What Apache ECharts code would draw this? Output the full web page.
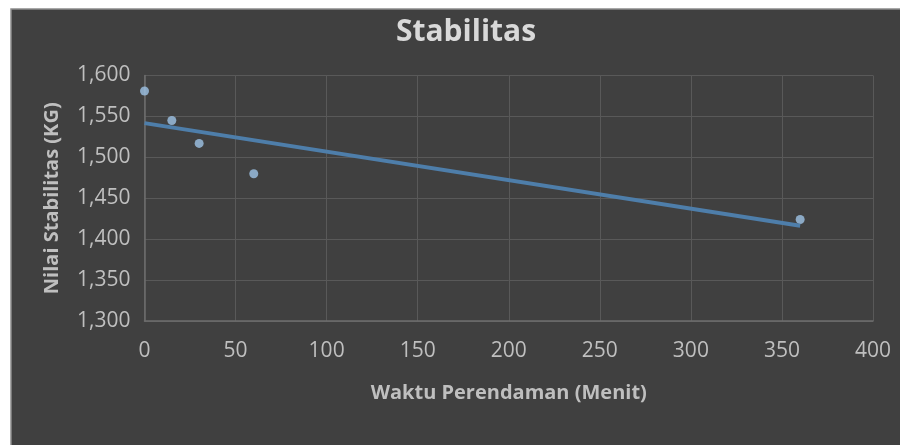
<!DOCTYPE html>
<html>
<head>
<meta charset="utf-8">
<script src="https://cdn.jsdelivr.net/npm/echarts@6/dist/echarts.min.js"></script>
<style>
  html, body { margin: 0; padding: 0; background: #ffffff; }
  #chart { width: 900px; height: 445px; }
</style>
</head>
<body>
<div id="chart"></div>
<script>
// Soaking time (minutes) and measured stability (kg)
const waktu = [0, 15, 30, 60, 360];
const stabilitas = [1581, 1545, 1517, 1480, 1424];
const xTicks = [0, 50, 100, 150, 200, 250, 300, 350, 400];
const yTicks = [1300, 1350, 1400, 1450, 1500, 1550, 1600];

// Least-squares linear trend through the measurements
function linearFit(xs, ys) {
  const n = xs.length;
  const mx = xs.reduce((a, b) => a + b, 0) / n;
  const my = ys.reduce((a, b) => a + b, 0) / n;
  let sxy = 0, sxx = 0;
  for (let i = 0; i < n; i++) {
    sxy += (xs[i] - mx) * (ys[i] - my);
    sxx += (xs[i] - mx) * (xs[i] - mx);
  }
  const slope = sxy / sxx;
  return { slope, intercept: my - slope * mx };
}
const fit = linearFit(waktu, stabilitas);
const xStart = Math.min(...waktu), xEnd = Math.max(...waktu);
const trend = [
  [xStart, fit.intercept + fit.slope * xStart],
  [xEnd, fit.intercept + fit.slope * xEnd]
];

const fmt = v => v.toLocaleString('en-US');
const labelColor = '#bfbfbf';
const font = '"Open Sans", "Noto Sans", sans-serif';

const chart = echarts.init(document.getElementById('chart'), null, { renderer: 'canvas' });
chart.setOption({
  backgroundColor: '#ffffff',
  animation: false,
  graphic: [{
    type: 'rect',
    z: -10,
    silent: true,
    shape: { x: 11, y: 9, width: 900, height: 445 },
    style: { fill: '#404040', stroke: '#8c8c8c', lineWidth: 1.5 }
  }],
  title: {
    text: 'Stabilitas',
    left: 461,
    top: 12,
    textAlign: 'center',
    textStyle: { color: '#d9d9d9', fontSize: 30, fontWeight: 'bold', fontFamily: font }
  },
  grid: { left: 144.5, right: 27, top: 75.5, bottom: 124, containLabel: false },
  xAxis: {
    type: 'value',
    min: xTicks[0],
    max: xTicks[xTicks.length - 1],
    interval: xTicks[1] - xTicks[0],
    name: 'Waktu Perendaman (Menit)',
    nameLocation: 'middle',
    nameGap: 62,
    nameTextStyle: { color: labelColor, fontSize: 20, fontWeight: 'bold', fontFamily: font },
    axisLine: { show: true, lineStyle: { color: '#6e6e6e', width: 1.5 } },
    axisTick: { show: false },
    axisLabel: { color: labelColor, fontSize: 21, margin: 20, fontFamily: font },
    splitLine: { show: true, lineStyle: { color: '#595959', width: 1 } }
  },
  yAxis: {
    type: 'value',
    min: yTicks[0],
    max: yTicks[yTicks.length - 1],
    interval: yTicks[1] - yTicks[0],
    name: 'Nilai Stabilitas (KG)',
    nameLocation: 'middle',
    nameGap: 82,
    nameRotate: 90,
    nameTextStyle: { color: labelColor, fontSize: 20, fontWeight: 'bold', fontFamily: font },
    axisLine: { show: true, lineStyle: { color: '#6e6e6e', width: 1.5 } },
    axisTick: { show: false },
    axisLabel: { color: labelColor, fontSize: 21, margin: 14, fontFamily: font, formatter: fmt },
    splitLine: { show: true, lineStyle: { color: '#595959', width: 1 } }
  },
  series: [
    {
      type: 'scatter',
      data: waktu.map((x, i) => [x, stabilitas[i]]),
      symbol: 'circle',
      symbolSize: 9,
      itemStyle: { color: '#9dc3e6' },
      z: 2
    },
    {
      type: 'line',
      data: trend,
      showSymbol: false,
      lineStyle: { color: '#4e7eaa', width: 4 },
      z: 3
    }
  ]
});
</script>
</body>
</html>
